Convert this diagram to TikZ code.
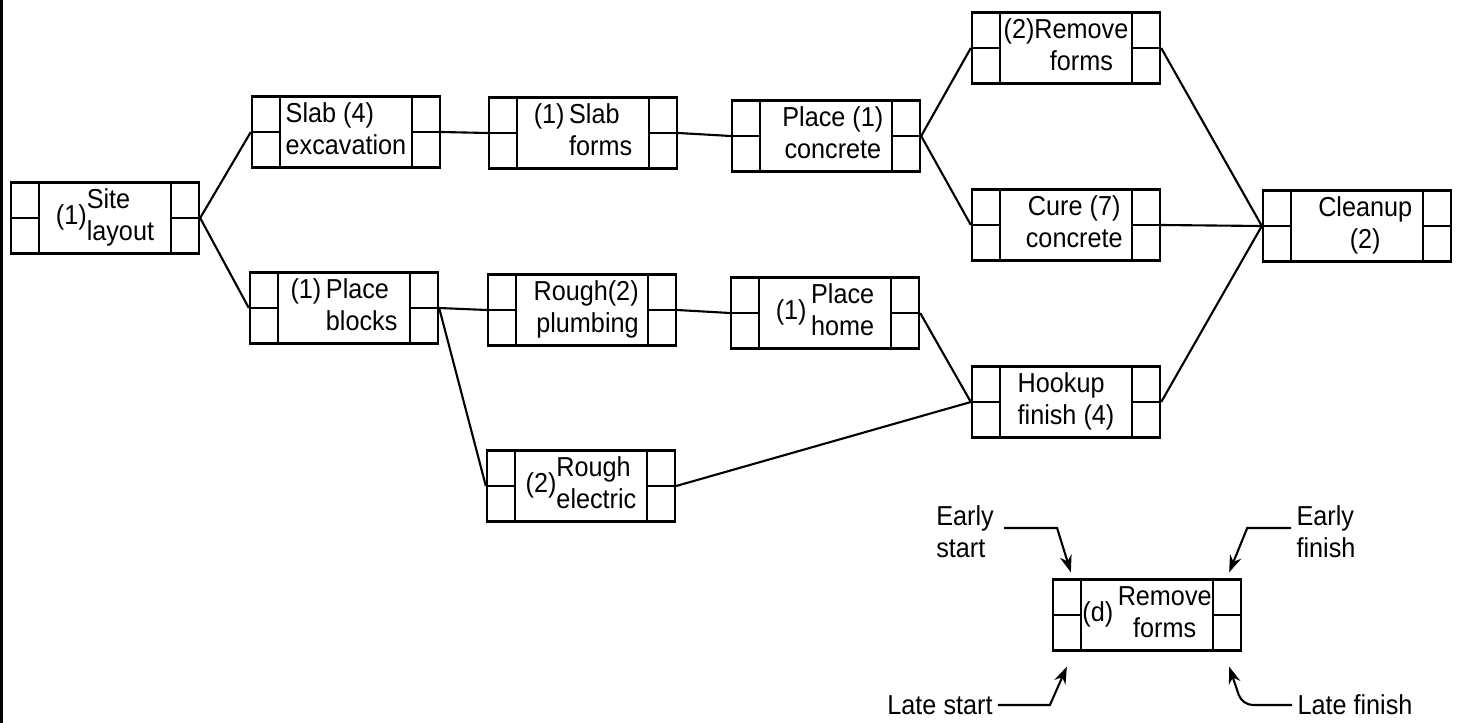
\documentclass[tikz,border=0pt]{standalone}
\usepackage{fontspec}
\setmainfont{Liberation Sans}[FakeStretch=0.92]
\usepackage{tikz}
\usetikzlibrary{calc, positioning, arrows.meta}

% two stacked lines of text inside an activity box
\newcommand{\twoline}[2][l]{\begin{tabular}{@{}#1@{}}#2\end{tabular}}

\begin{document}
\begin{tikzpicture}[>={Stealth[length=0.34cm, width=0.24cm]}, x=0.02cm, y=-0.02cm,
    txt/.style={font=\fontsize{15.6}{18}\selectfont},
    actbox/.style={txt, draw, line width=1.35pt, minimum width=3.76cm,
        minimum height=1.42cm, inner sep=0pt,
        path picture={
            \draw[line width=1.35pt] ([xshift=0.56cm]path picture bounding box.north west)
                -- ([xshift=0.56cm]path picture bounding box.south west);
            \draw[line width=1.35pt] ([xshift=-0.56cm]path picture bounding box.north east)
                -- ([xshift=-0.56cm]path picture bounding box.south east);
            \draw[line width=1.35pt] (path picture bounding box.west) -- ++(0.56cm,0);
            \draw[line width=1.35pt] (path picture bounding box.east) -- ++(-0.56cm,0);
        }},
    link/.style={line width=1.2pt},
    note/.style={txt, align=left, inner sep=0pt}]

    \useasboundingbox (0,0) rectangle (1461,723);
    \fill (0,0) rectangle (3,723);

    % =================================================================
    % 1. ACTIVITY BOXES
    % =================================================================
    \node[actbox] (site) at (105,218) {(1)\twoline{Site\\layout}};
    \node[actbox] (slabexc) at (346,132) {\twoline{Slab (4)\\excavation}};
    \node[actbox] (slabforms) at (583,133) {\begin{tabular}{@{}r@{\,}l@{}}(1)&Slab\\&forms\end{tabular}};
    \node[actbox] (placeconc) at (826,136) {\hspace*{0.5em}\twoline[c]{Place (1)\\concrete}};
    \node[actbox] (remforms) at (1066,48) {\begin{tabular}{@{}r@{}c@{}}(2)&Remove\\&forms\end{tabular}};
    \node[actbox] (cure) at (1066,225) {\hspace*{0.6em}\twoline[c]{Cure (7)\\concrete}};
    \node[actbox] (cleanup) at (1357,226) {\hspace*{0.6em}\twoline[c]{Cleanup\\(2)\hspace{1.2em}}};

    \node[actbox] (placeblocks) at (344,308) {\begin{tabular}{@{}r@{\,}l@{}}(1)&Place\\&blocks\end{tabular}};
    \node[actbox] (roughplumb) at (582,310) {\hspace*{0.3em}\twoline[r]{Rough(2)\\plumbing}};
    \node[actbox] (placehome) at (825,313) {(1)\,\twoline[c]{Place\\home}};
    \node[actbox] (hookup) at (1066,402) {\twoline{Hookup\\finish (4)}};
    \node[actbox] (roughelec) at (581,486) {(2)\twoline{Rough\\electric}};

    % =================================================================
    % 2. LINKS BETWEEN ACTIVITIES
    % =================================================================
    \draw[link] (site.east) -- (slabexc.west);
    \draw[link] (site.east) -- (placeblocks.west);
    \draw[link] (slabexc.east) -- (slabforms.west);
    \draw[link] (slabforms.east) -- (placeconc.west);
    \draw[link] (placeconc.east) -- (remforms.west);
    \draw[link] (placeconc.east) -- (cure.west);
    \draw[link] (remforms.east) -- (cleanup.west);
    \draw[link] (cure.east) -- (cleanup.west);
    \draw[link] (hookup.east) -- (cleanup.west);
    \draw[link] (placeblocks.east) -- (roughplumb.west);
    \draw[link] (placeblocks.east) -- (roughelec.west);
    \draw[link] (roughplumb.east) -- (placehome.west);
    \draw[link] (placehome.east) -- (hookup.west);
    \draw[link] (roughelec.east) -- (hookup.west);

    % =================================================================
    % 3. LEGEND BOX
    % =================================================================
    \node[actbox] (legend) at (1147,615) {(d)\,\twoline[c]{Remove\\forms}};

    \node[note] (eslabel) at (965,532) {Early\\start};
    \node[note] (eflabel) at (1326,532) {Early\\finish};
    \node[note] (lslabel) at (940,705) {Late start};
    \node[note] (lflabel) at (1355,705) {Late finish};

    \coordinate (estip) at ($(legend.north west)+(19,-6)$);
    \coordinate (eftip) at ($(legend.north east)+(-13,-6)$);
    \coordinate (lstip) at ($(legend.south west)+(15,15)$);
    \coordinate (lftip) at ($(legend.south east)+(-13,15)$);

    \draw[link, ->] ($(eslabel.east)+(10,-4)$) -- ++(53,0) -- (estip);
    \draw[link, ->] ($(eflabel.west)+(-5,-4)$) -- ++(-44,0) -- (eftip);
    \draw[link, ->] ($(lslabel.east)+(5,0)$) -- ++(52,0) -- (lstip);
    \draw[link, ->, rounded corners=6pt] ($(lflabel.west)+(-5,0)$) -- ++(-50,0) -- (lftip);

\end{tikzpicture}
\end{document}
